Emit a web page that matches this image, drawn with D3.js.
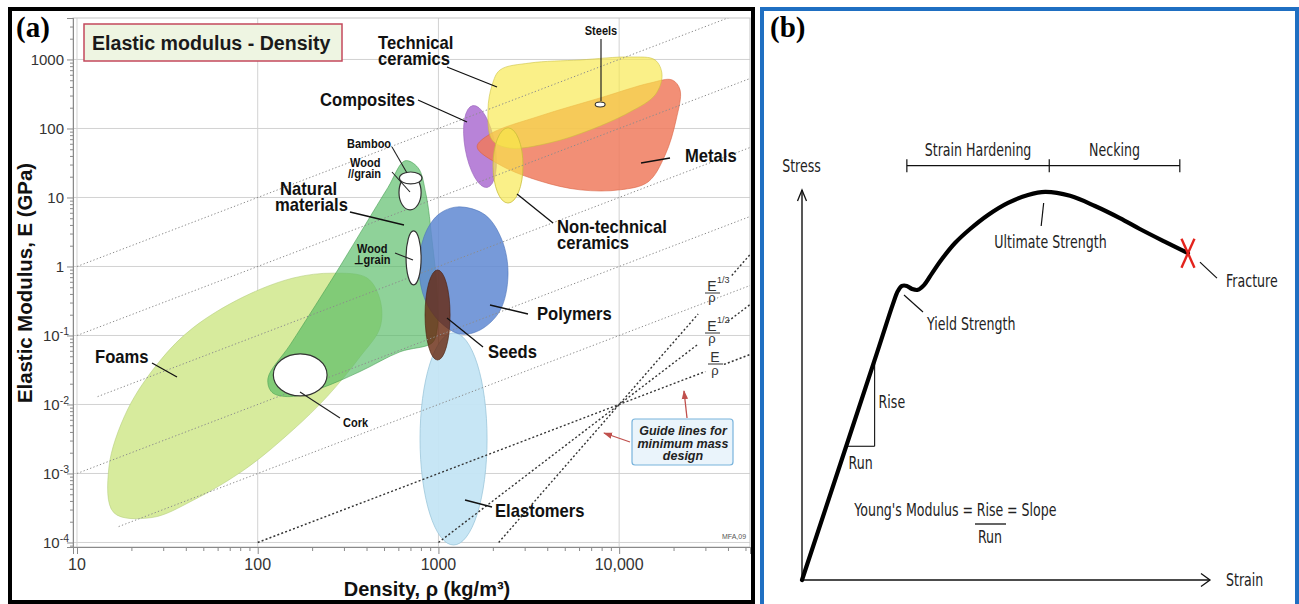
<!DOCTYPE html>
<html><head><meta charset="utf-8">
<script src="https://cdn.jsdelivr.net/npm/d3@7"></script>
<style>html,body{margin:0;padding:0;background:#fff;}svg{display:block;}</style>
</head><body>
<script>
// ---------- Panel (a): elastic modulus vs density ----------
const densityTicks = [10, 100, 1000, 10000];
const densityTickLabels = ["10", "100", "1000", "10,000"];
const modulusTicks = [1e-4, 1e-3, 1e-2, 1e-1, 1, 10, 100, 1000];
const modulusTickBase = ["10", "10", "10", "10", "1", "10", "100", "1000"];
const modulusTickExp = ["-4", "-3", "-2", "-1", "", "", "", ""];

// family envelopes as outlines: [density kg/m3, modulus GPa]
const foamsOutline = [[15,0.0012],[16,0.00027],[26,0.00023],[44,0.00041],[87,0.0012],[157,0.0043],[242,0.013],[368,0.049],[475,0.13],[475,0.33],[403,0.68],[261,0.8],[157,0.68],[83,0.36],[44,0.13],[29,0.044],[19,0.0083]];
const naturalOutline = [[653,34],[771,27],[854,11],[922,2.4],[982,0.46],[982,0.12],[922,0.078],[613,0.058],[368,0.03],[221,0.017],[151,0.013],[120,0.015],[114,0.024],[151,0.073],[208,0.27],[285,1.0],[393,4.0],[526,14]];
const polymersOutline = [[1282,7.3],[1811,5.6],[2249,2.4],[2427,0.75],[2193,0.23],[1700,0.12],[1318,0.105],[1020,0.157],[843,0.33],[781,0.89],[832,2.7],[995,5.6]];
const techCeramicsOutline = [[1982,427],[2193,705],[3213,889],[6073,984],[11470,1087],[15800,984],[17270,596],[15800,306],[11470,173],[6898,95],[4145,62],[2490,52],[1982,68],[1880,185]];
const metalsOutline = [[1637,54],[1931,83],[3649,152],[7835,277],[14830,456],[19640,505],[21730,361],[20660,133],[17950,41],[14450,16.8],[10110,12.9],[6083,12.9],[3649,17.3],[2193,29.6]];

// families as ranges: [density min, density max, modulus min, modulus max]
const compositesRange = [1403, 2056, 13.7, 219];
const nonTechCeramicsRange = [2005, 2938, 8.3, 102];
const elastomersRange = [791, 1858, 0.000092, 0.109];
const seedsRange = [843, 1160, 0.044, 0.89];
const corkRange = [122, 242, 0.0133, 0.054];
const woodParallelRange = [605, 802, 6.6, 21.2];
const bambooRange = [608, 811, 15.7, 23.4];
const woodPerpRange = [662, 802, 0.54, 3.27];
const steelsRange = [7370, 8360, 205, 242];

// background guide lines E = C * rho
const guideConstants = [1e-1, 1e-2, 1e-3, 1e-4, 1e-5];
const guideStartDensity = [10, 10, 13, 10, 17];
// minimum-mass design lines through a common pivot, E ∝ rho^n
const designPivot = [10000, 0.01];
const designExponents = [1, 2, 3];
const designSegments = [
  [[100, 30000], [38000, 53000]],
  [[1000, 27000], [40000, 53000]],
  [[2154, 27350], [42000, 53000]]
];

// ---------- Panel (b): stress-strain curve ----------
const strainStressCurve = [[0,0],[18.4,58.3],[22.3,70.8],[23.5,74.1],[24.5,75.4],[25.7,75.4],[27.0,74.6],[28.4,74.4],[29.9,75.6],[31.9,78.7],[34.3,82.3],[37.5,86.4],[41.2,90.0],[45.6,93.6],[50.5,96.7],[55.4,98.7],[59.6,99.5],[65.7,98.5],[71.8,95.9],[77.9,92.8],[82.8,90.0],[89.0,86.7],[94.6,83.8]];
const phaseBounds = [25.7, 60.6, 92.6];
const phaseNames = ["Strain Hardening", "Necking"];
const slopeRun = [10.8, 17.8];

const SANS = "Arial, 'Liberation Sans', Helvetica, sans-serif";
const SERIF = "'Times New Roman', 'Liberation Serif', serif";
const DJV = "'DejaVu Sans', sans-serif";

const svg = d3.select("body").append("svg").attr("width", 1299).attr("height", 604);
const defs = svg.append("defs");
defs.append("clipPath").attr("id", "plotClip").append("rect")
  .attr("x", 73).attr("y", 18).attr("width", 677).attr("height", 529);
defs.append("marker").attr("id", "redHead").attr("viewBox", "0 0 10 10")
  .attr("refX", 9).attr("refY", 5).attr("markerWidth", 7).attr("markerHeight", 7)
  .attr("orient", "auto").append("path").attr("d", "M0,1.5 L10,5 L0,8.5 Z").attr("fill", "#c0504d");

function txt(g, x, y, s, o = {}) {
  return g.append("text")
    .attr("transform", `translate(${x},${y})` + (o.sx ? ` scale(${o.sx},1)` : ""))
    .attr("text-anchor", o.anchor || "start")
    .attr("font-size", o.size || 16)
    .attr("font-weight", o.weight || "normal")
    .attr("font-style", o.style || "normal")
    .attr("font-family", o.family || SANS)
    .attr("fill", o.fill || "#111")
    .text(s);
}
function seg(g, x1, y1, x2, y2, stroke = "#111", w = 1.3) {
  return g.append("line").attr("x1", x1).attr("y1", y1).attr("x2", x2).attr("y2", y2)
    .attr("stroke", stroke).attr("stroke-width", w);
}

// ===== Panel (a) =====
const gA = svg.append("g");
const x = d3.scaleLog().domain([9.504, 52970]).range([73, 750]);
const y = d3.scaleLog().domain([8.6e-5, 3990]).range([547, 18]);

// grid
gA.append("g").selectAll("line").data(modulusTicks).join("line")
  .attr("x1", 73).attr("x2", 750).attr("y1", d => y(d)).attr("y2", d => y(d))
  .attr("stroke", "#d2d2d2").attr("stroke-width", 1);
gA.append("g").selectAll("line").data(densityTicks).join("line")
  .attr("x1", d => x(d)).attr("x2", d => x(d)).attr("y1", 18).attr("y2", 547)
  .attr("stroke", "#d2d2d2").attr("stroke-width", 1);
gA.append("rect").attr("x", 73).attr("y", 18).attr("width", 677).attr("height", 529)
  .attr("fill", "none").attr("stroke", "#c4c4c4");

// axes with log minor ticks
function minors(decades, lo, hi) {
  const out = [];
  decades.forEach(d => { for (let k = 2; k <= 9; k++) { const v = k * d; if (v > lo && v < hi) out.push(v); } });
  return out;
}
const xMinor = minors([1, 10, 100, 1000, 10000], 9.504, 52970);
const yMinor = minors([1e-5, 1e-4, 1e-3, 1e-2, 1e-1, 1, 10, 100, 1000], 8.6e-5, 3990);
function styleAxis(sel) {
  sel.select(".domain").attr("stroke", "#8a8a8a");
  sel.selectAll(".tick line").attr("stroke", "#8a8a8a");
}
gA.append("g").attr("transform", "translate(0,547)")
  .call(d3.axisBottom(x).tickValues(densityTicks).tickSize(7).tickFormat("")).call(styleAxis);
gA.append("g").attr("transform", "translate(0,547)")
  .call(d3.axisBottom(x).tickValues(xMinor).tickSize(4).tickFormat("")).call(styleAxis);
gA.append("g").attr("transform", "translate(73,0)")
  .call(d3.axisLeft(y).tickValues(modulusTicks).tickSize(6).tickFormat("")).call(styleAxis);
gA.append("g").attr("transform", "translate(73,0)")
  .call(d3.axisLeft(y).tickValues(yMinor).tickSize(3).tickFormat("")).call(styleAxis);

densityTicks.forEach((t, i) => txt(gA, x(t), 570, densityTickLabels[i], { anchor: "middle", size: 16, fill: "#333" }));
modulusTicks.forEach((t, i) => {
  const hasExp = modulusTickExp[i] !== "";
  const tx = gA.append("text").attr("x", hasExp ? 69 : 64).attr("y", y(t) + 5.5)
    .attr("text-anchor", "end").attr("font-family", SANS).attr("font-size", 15).attr("fill", "#333");
  tx.append("tspan").text(modulusTickBase[i]);
  if (hasExp) tx.append("tspan").attr("dy", -6).attr("font-size", 10.5).text(modulusTickExp[i]);
});

// axis titles
txt(gA, 427, 596, "Density, ρ (kg/m³)", { anchor: "middle", size: 20, weight: "bold" });
gA.append("text").attr("transform", "translate(31.5,283) rotate(-90)").attr("text-anchor", "middle")
  .attr("font-family", SANS).attr("font-size", 20.4).attr("font-weight", "bold").attr("fill", "#111")
  .text("Elastic Modulus, E (GPa)");

// family envelopes
const plot = gA.append("g").attr("clip-path", "url(#plotClip)");
const outline = d3.line().x(d => x(d[0])).y(d => y(d[1])).curve(d3.curveCatmullRomClosed.alpha(0.5));
function blob(data, fill, opacity, stroke) {
  plot.append("path").attr("d", outline(data)).attr("fill", fill).attr("fill-opacity", opacity)
    .attr("stroke", stroke).attr("stroke-width", 0.8).attr("stroke-opacity", 0.7);
}
function oval(r, fill, opacity, stroke, sw, tilt = 0) {
  const cx = (x(r[0]) + x(r[1])) / 2, cy = (y(r[2]) + y(r[3])) / 2;
  plot.append("ellipse").attr("cx", cx).attr("cy", cy)
    .attr("rx", Math.abs(x(r[1]) - x(r[0])) / 2).attr("ry", Math.abs(y(r[2]) - y(r[3])) / 2)
    .attr("transform", tilt ? `rotate(${tilt},${cx},${cy})` : null)
    .attr("fill", fill).attr("fill-opacity", opacity).attr("stroke", stroke).attr("stroke-width", sw);
}
blob(foamsOutline, "#d7eb9d", 1, "#b3cc7c");
blob(naturalOutline, "#55bb64", 0.66, "#3f9a4c");
oval(elastomersRange, "#c4e5f4", 0.95, "#9cc7da", 0.8);
blob(polymersOutline, "#5f88d2", 0.85, "#4a72b8");
oval(seedsRange, "#66280f", 0.8, "#4a1c0a", 0.6);
oval(compositesRange, "#b883d8", 1, "#9a63bb", 0.6, -10);
blob(metalsOutline, "#f07a5c", 0.84, "#d8603f");
blob(techCeramicsOutline, "#f7e84a", 0.66, "#c9be3a");
oval(nonTechCeramicsRange, "#f7e84a", 0.66, "#c9be3a", 0.8);

// guide lines E = C*rho
guideConstants.forEach((c, i) => {
  const r0 = guideStartDensity[i], r1 = 53000;
  plot.append("line").attr("x1", x(r0)).attr("y1", y(c * r0)).attr("x2", x(r1)).attr("y2", y(c * r1))
    .attr("stroke", "#8c8c8c").attr("stroke-width", 1).attr("stroke-dasharray", "1.3,2.2");
});
// minimum-mass design lines
designExponents.forEach((n, i) => {
  designSegments[i].forEach(s => {
    const e = r => designPivot[1] * Math.pow(r / designPivot[0], n);
    plot.append("line").attr("x1", x(s[0])).attr("y1", y(e(s[0]))).attr("x2", x(s[1])).attr("y2", y(e(s[1])))
      .attr("stroke", "#333").attr("stroke-width", 1.4).attr("stroke-dasharray", "2,2.2");
  });
});

// open regions (white)
oval(corkRange, "#fff", 1, "#333", 1.2);
oval(woodParallelRange, "#fff", 1, "#333", 1.2);
oval(bambooRange, "#fff", 1, "#333", 1.2);
oval(woodPerpRange, "#fff", 1, "#333", 1.2);
oval(steelsRange, "#fff", 1, "#333", 1.1);

// family labels and leaders
const L = { size: 17.5, weight: "bold", sx: 0.95 };
const S = { size: 12, weight: "bold", sx: 0.92 };
txt(gA, 378, 48.5, "Technical", L); txt(gA, 378, 64.5, "ceramics", L); seg(gA, 447, 67, 497, 87);
txt(gA, 320, 106, "Composites", L); seg(gA, 418, 100, 467, 122);
txt(gA, 685, 162, "Metals", L); seg(gA, 670, 158, 641, 163);
txt(gA, 557, 232.5, "Non-technical", L); txt(gA, 557, 248.5, "ceramics", L); seg(gA, 553, 223, 517, 194);
txt(gA, 280, 194.5, "Natural", L); txt(gA, 275, 210.5, "materials", L); seg(gA, 350, 212, 404, 225);
txt(gA, 95, 363, "Foams", L); seg(gA, 152, 363, 177, 377);
txt(gA, 537, 320, "Polymers", L); seg(gA, 528, 314, 490, 305);
txt(gA, 488, 358, "Seeds", L); seg(gA, 483, 347, 447, 318);
txt(gA, 495, 517, "Elastomers", L); seg(gA, 492, 507, 465, 500);
txt(gA, 601, 35, "Steels", { ...S, anchor: "middle" }); seg(gA, 601, 39, 601, 101, "#222", 1.2);
txt(gA, 347, 148, "Bamboo", S); seg(gA, 392, 147, 407, 173, "#222", 1.1);
txt(gA, 350, 167, "Wood", S); txt(gA, 348, 178, "//grain", S); seg(gA, 392, 172, 410, 192, "#222", 1.1);
txt(gA, 357, 253, "Wood", S); txt(gA, 354, 264, "⊥grain", S); seg(gA, 395, 253, 413, 260, "#222", 1.1);
txt(gA, 343, 427, "Cork", S); seg(gA, 300, 392, 340, 418, "#222", 1.1);

// design guide labels
function fraction(cx, eBase, sup, barY, rhoBase) {
  txt(gA, cx, eBase, "E", { anchor: "middle", size: 14, fill: "#333" });
  if (sup) txt(gA, cx + 5, eBase - 8, sup, { size: 9, fill: "#333" });
  seg(gA, cx - 7, barY, cx + 8, barY, "#333", 1);
  txt(gA, cx, rhoBase, "ρ", { anchor: "middle", size: 13, fill: "#333" });
}
fraction(712, 291, "1/3", 293, 302);
fraction(712, 331, "1/2", 333, 343);
fraction(715, 362, "", 364, 375);

// guide note
gA.append("rect").attr("x", 632).attr("y", 419).attr("width", 101).attr("height", 46).attr("rx", 3)
  .attr("fill", "#eaf4fb").attr("stroke", "#78b3dc").attr("stroke-width", 1.2);
["Guide lines for", "minimum mass", "design"].forEach((s, i) =>
  txt(gA, 683, 435 + i * 12.5, s, { anchor: "middle", size: 12.5, weight: "bold", style: "italic", fill: "#222" }));
gA.append("line").attr("x1", 687).attr("y1", 418).attr("x2", 684).attr("y2", 391)
  .attr("stroke", "#c0504d").attr("stroke-width", 1.3).attr("marker-end", "url(#redHead)");
gA.append("line").attr("x1", 630).attr("y1", 442).attr("x2", 604).attr("y2", 433)
  .attr("stroke", "#c0504d").attr("stroke-width", 1.3).attr("marker-end", "url(#redHead)");
txt(gA, 734, 539, "MFA,09", { anchor: "middle", size: 7, fill: "#555" });

// chart title box
gA.append("rect").attr("x", 84).attr("y", 24).attr("width", 258).attr("height", 37)
  .attr("fill", "#eef5e2").attr("stroke", "#c4485c").attr("stroke-width", 1.5);
txt(gA, 92, 50, "Elastic modulus - Density", { size: 19.6, weight: "bold", fill: "#1a1a1a" });

// panel frame and tag
gA.append("rect").attr("x", 10).attr("y", 9).attr("width", 743).attr("height", 593)
  .attr("fill", "none").attr("stroke", "#000").attr("stroke-width", 4);
txt(gA, 16, 37, "(a)", { size: 29, weight: "bold", family: SERIF, fill: "#000" });

// ===== Panel (b) =====
const gB = svg.append("g");
gB.append("rect").attr("x", 762).attr("y", 9).attr("width", 535).attr("height", 600)
  .attr("fill", "none").attr("stroke", "#1f6fc2").attr("stroke-width", 4);
txt(gB, 770, 37, "(b)", { size: 29, weight: "bold", family: SERIF, fill: "#000" });

const xs = d3.scaleLinear().domain([0, 100]).range([802, 1210]);
const ys = d3.scaleLinear().domain([0, 100]).range([580, 190]);
const B = { size: 17.5, family: DJV, sx: 0.72, fill: "#222" };

// axes with open arrowheads
seg(gB, xs(0), ys(0), xs(0), ys(100), "#111", 1.4);
gB.append("polyline").attr("points", `${xs(0) - 4.5},${ys(100) + 11} ${xs(0)},${ys(100)} ${xs(0) + 4.5},${ys(100) + 11}`)
  .attr("fill", "none").attr("stroke", "#111").attr("stroke-width", 1.3);
seg(gB, xs(0), ys(0), xs(100), ys(0), "#111", 1.4);
gB.append("polyline").attr("points", `${xs(100) - 9},${ys(0) - 6.5} ${xs(100)},${ys(0)} ${xs(100) - 9},${ys(0) + 6.5}`)
  .attr("fill", "none").attr("stroke", "#111").attr("stroke-width", 1.3);
txt(gB, 801.5, 172, "Stress", { ...B, anchor: "middle" });
txt(gB, 1226, 586, "Strain", B);

// slope triangle on the elastic part
const k = strainStressCurve[2][1] / strainStressCurve[2][0];
seg(gB, xs(slopeRun[0]), ys(k * slopeRun[0]), xs(slopeRun[1]), ys(k * slopeRun[0]), "#111", 1.1);
seg(gB, xs(slopeRun[1]), ys(k * slopeRun[0]), xs(slopeRun[1]), ys(k * slopeRun[1]), "#111", 1.1);
txt(gB, xs(slopeRun[1]) + 4, 407.5, "Rise", B);
txt(gB, xs(slopeRun[0]) + 2.5, 469, "Run", B);

// the curve
gB.append("path").attr("d", d3.line().x(d => xs(d[0])).y(d => ys(d[1])).curve(d3.curveCatmullRom.alpha(0.5))(strainStressCurve))
  .attr("fill", "none").attr("stroke", "#000").attr("stroke-width", 4.2)
  .attr("stroke-linejoin", "round").attr("stroke-linecap", "round");

// fracture mark
const fr = strainStressCurve[strainStressCurve.length - 1];
const fx = xs(fr[0]), fy = ys(fr[1]);
seg(gB, fx - 6.5, fy - 14.5, fx + 6.5, fy + 14.5, "#e3231c", 2.4);
seg(gB, fx + 6.5, fy - 14.5, fx - 6.5, fy + 14.5, "#e3231c", 2.4);
seg(gB, fx + 12, fy + 9, fx + 29, fy + 25, "#111", 1.2);
txt(gB, 1226, 287, "Fracture", B);

// ultimate strength and yield annotations
const peak = strainStressCurve.reduce((a, b) => (b[1] > a[1] ? b : a));
seg(gB, xs(peak[0]) - 1.5, ys(peak[1]) + 11, xs(peak[0]) - 4, ys(peak[1]) + 34, "#111", 1.2);
txt(gB, 1050.5, 248, "Ultimate Strength", { ...B, anchor: "middle" });
seg(gB, 904, 295, 923, 312, "#111", 1.2);
txt(gB, 927, 330, "Yield Strength", B);

// phase brackets
const by = 165.7;
seg(gB, xs(phaseBounds[0]), by, xs(phaseBounds[2]), by, "#111", 1.2);
phaseBounds.forEach(p => seg(gB, xs(p), by - 6.5, xs(p), by + 6.5, "#111", 1.2));
phaseNames.forEach((nm, i) => txt(gB, (xs(phaseBounds[i]) + xs(phaseBounds[i + 1])) / 2, 156, nm, { ...B, anchor: "middle" }));

// modulus definition
txt(gB, 973, 516, "Young's Modulus =", { ...B, anchor: "end" });
txt(gB, 990, 516, "Rise", { ...B, anchor: "middle" });
txt(gB, 1007, 516, "= Slope", B);
seg(gB, 975, 524, 1006, 524, "#111", 1.3);
txt(gB, 990, 543, "Run", { ...B, anchor: "middle" });
</script>
</body></html>
